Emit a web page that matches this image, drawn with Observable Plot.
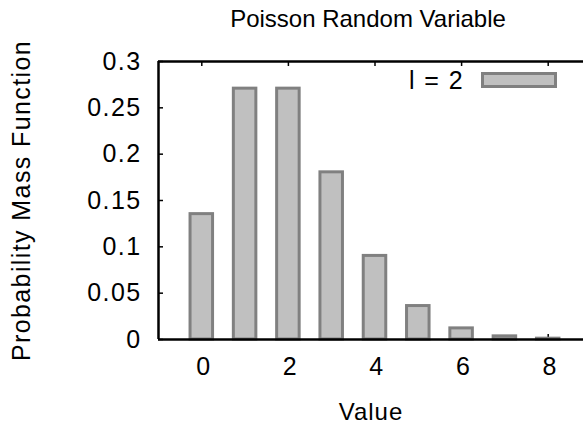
<!DOCTYPE html>
<html>
<head>
<meta charset="utf-8">
<script src="https://cdn.jsdelivr.net/npm/d3@7"></script>
<script src="https://cdn.jsdelivr.net/npm/@observablehq/plot@0.6"></script>
<style>
  html, body { margin: 0; padding: 0; background: #fff; overflow: hidden; }
  body { width: 583px; height: 429px; font-family: "Liberation Sans", Arial, sans-serif; }
  #wrap { position: relative; width: 583px; height: 429px; }
  #title { height: 40px; line-height: 38px; text-align: center; font-size: 24px; color: #000; padding-left: 153px; box-sizing: border-box; width: 583px; }
  #legend { position: absolute; top: 72px; left: 0; width: 583px; height: 18px; }
  #legend .lab { position: absolute; right: 119px; top: -5px; font-size: 25px; line-height: 26px; letter-spacing: 1.4px; }
  #legend .sw { position: absolute; left: 481px; top: 0; width: 70px; height: 10px; background: #c0c0c0; border: 3px solid #808080; }
  #chart svg g[aria-label="y-axis tick label"] text,
  #chart svg g[aria-label="x-axis tick label"] text,
  #chart svg g[aria-label="y-axis label"] text { letter-spacing: 1.4px; }
  #chart svg g[aria-label="x-axis label"] text { letter-spacing: 1px; }
</style>
</head>
<body>
<div id="wrap">
  <div id="title"></div>
  <div id="chart"></div>
  <div id="legend"><span class="lab"></span><span class="sw"></span></div>
</div>
<script>
const titleText = "Poisson Random Variable";
const xLabel = "Value";
const yLabel = "Probability Mass Function";
const seriesName = "l = 2";
const values = [0, 1, 2, 3, 4, 5, 6, 7, 8];
const pmf = [0.1353, 0.2707, 0.2707, 0.1804, 0.0902, 0.0361, 0.0120, 0.0034, 0.0009];
const xTicks = [0, 2, 4, 6, 8];
const yTicks = [0, 0.05, 0.1, 0.15, 0.2, 0.25, 0.3];

document.getElementById("title").textContent = titleText;
document.querySelector("#legend .lab").textContent = seriesName;

const data = values.map((v, i) => ({value: v, p: pmf[i]}));

const W = 583, H = 389;
const mL = 158, mT = 21, mB = 90;
const plotH = H - mT - mB;
const plotW = W - mL;
const half = 0.26;

const chart = Plot.plot({
  width: W,
  height: H,
  marginLeft: mL,
  marginRight: 0,
  marginTop: mT,
  marginBottom: mB,
  style: {fontFamily: "'Liberation Sans', Arial, sans-serif", fontSize: "25px", color: "#000", background: "#fff"},
  x: {domain: [-1, 9], range: [mL, mL + 43.3 * 10]},
  y: {domain: [0, 0.3]},
  marks: [
    Plot.tickX(xTicks, {x: d => d, insetTop: plotH - 5, stroke: "#000", strokeWidth: 1.5}),
    Plot.rect(data, {x1: d => d.value - half, x2: d => d.value + half, y1: 0, y2: "p", fill: "#c0c0c0", stroke: "#808080", strokeWidth: 3}),
    Plot.tickX(xTicks, {x: d => d, insetBottom: plotH - 5, stroke: "#000", strokeWidth: 1.5}),
    Plot.tickY(yTicks, {y: d => d, insetRight: plotW - 5, stroke: "#000", strokeWidth: 1.5}),
    Plot.ruleY([0.3], {stroke: "#000", strokeWidth: 2.5}),
    Plot.ruleY([0], {stroke: "#000", strokeWidth: 2.5}),
    Plot.ruleX([-1], {stroke: "#000", strokeWidth: 2.5}),
    Plot.axisX(xTicks, {tickSize: 0, tickPadding: 18, dx: 2, fontSize: 25, label: null}),
    Plot.axisX({tickSize: 0, ticks: [], fontSize: 24, label: xLabel, labelAnchor: "center", labelArrow: "none", labelOffset: 80}),
    Plot.axisY(yTicks, {tickSize: 0, tickPadding: 17, fontSize: 25, tickFormat: d => String(d), label: yLabel, labelAnchor: "center", labelArrow: "none", labelOffset: 146})
  ]
});
document.getElementById("chart").appendChild(chart);
</script>
</body>
</html>
